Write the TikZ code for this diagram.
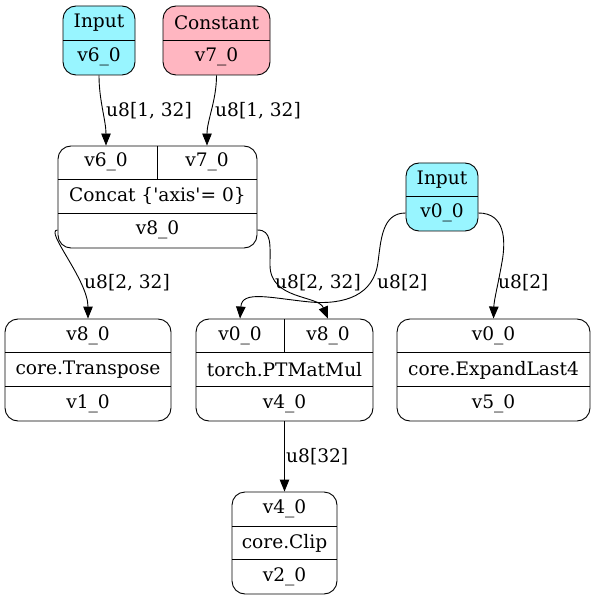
\documentclass[tikz,border=0pt]{standalone}
\usepackage{fontspec}
\setmainfont{DejaVu Serif}
\usetikzlibrary{arrows.meta}
\definecolor{inblue}{HTML}{98F5FF}
\definecolor{cpink}{HTML}{FFB6C1}

\begin{document}
\begin{tikzpicture}[x=1pt,y=-1pt,
  rec/.style={draw,rounded corners=13pt,line width=0.9pt,inner sep=0pt},
  txt/.style={font=\fontsize{18.6}{21}\selectfont,inner sep=0pt},
  lab/.style={font=\fontsize{18.6}{21}\selectfont,inner sep=0pt,anchor=west},
  arr/.style={-{Triangle[length=12pt,width=9.5pt]},line width=0.9pt}]
  \useasboundingbox (0,0) rectangle (596,601);

  % inputs
  \node[rec,fill=inblue,minimum width=72pt,minimum height=69pt] (inp6) at (99,40.5) {};
  \node[rec,fill=cpink,minimum width=107pt,minimum height=69pt] (cst7) at (216.5,40.5) {};
  \node[rec,fill=inblue,minimum width=72pt,minimum height=68pt] (inp0) at (442,197) {};
  \draw[line width=0.9pt] (63,40) -- (135,40) (163,40) -- (270,40) (406,196) -- (478,196);
  \node[txt] (inp6a) at (99,23) {Input};
  \node[txt] (inp6b) at (99,57) {v6\_0};
  \node[txt] (cst7a) at (216.5,23) {Constant};
  \node[txt] (cst7b) at (216.5,57) {v7\_0};
  \node[txt] (inp0a) at (442,180) {Input};
  \node[txt] (inp0b) at (442,213) {v0\_0};

  % ops
  \node[rec,minimum width=199pt,minimum height=102pt] (concat) at (157.5,197) {};
  \node[rec,minimum width=166pt,minimum height=102pt] (transp) at (88,370) {};
  \node[rec,minimum width=177pt,minimum height=102pt] (matmul) at (284.5,370) {};
  \node[rec,minimum width=193pt,minimum height=102pt] (expand) at (493.5,370) {};
  \node[rec,minimum width=105pt,minimum height=102pt] (clip) at (284.5,543) {};
  \draw[line width=0.9pt]
    (58,179) -- (257,179) (58,213) -- (257,213) (157,146) -- (157,179)
    (5,352) -- (171,352) (5,386) -- (171,386)
    (196,352) -- (373,352) (196,386) -- (373,386) (284,319) -- (284,352)
    (397,352) -- (590,352) (397,386) -- (590,386)
    (232,526) -- (337,526) (232,559) -- (337,559);

  \node[txt] (cc1) at (106,162) {v6\_0};
  \node[txt] (cc2) at (207,162) {v7\_0};
  \node[txt] (cc3) at (157.5,196) {Concat \{\textquotesingle axis\textquotesingle= 0\}};
  \node[txt] (cc4) at (157.5,230) {v8\_0};
  \node[txt] (tr1) at (88,336) {v8\_0};
  \node[txt] (tr2) at (88,370) {core.Transpose};
  \node[txt] (tr3) at (88,404) {v1\_0};
  \node[txt] (mm1) at (240,336) {v0\_0};
  \node[txt] (mm2) at (328,336) {v8\_0};
  \node[txt] (mm3) at (284.5,370) {torch.PTMatMul};
  \node[txt] (mm4) at (284.5,404) {v4\_0};
  \node[txt] (ex1) at (493.5,336) {v0\_0};
  \node[txt] (ex2) at (493.5,370) {core.ExpandLast4};
  \node[txt] (ex3) at (493.5,404) {v5\_0};
  \node[txt] (cl1) at (284.5,509) {v4\_0};
  \node[txt] (cl2) at (284.5,543) {core.Clip};
  \node[txt] (cl3) at (284.5,577) {v2\_0};

  % edges
  \draw[arr] (inp6.south) .. controls +(0,25) and +(0,-25) .. (cc1 |- concat.north);
  \draw[arr] (cst7.south) .. controls +(0,25) and +(0,-25) .. (cc2 |- concat.north);
  \draw[arr] (concat.west |- cc4) .. controls (44,230) and (88,280) .. (tr1 |- transp.north);
  \draw[arr] (concat.east |- cc4) .. controls (272,230) and (270,245) .. (270,265)
    .. controls (270,300) and (318,295) .. (mm2 |- matmul.north);
  \draw[arr] (inp0.west |- inp0b) .. controls (382,213) and (381,240) .. (378,262)
    .. controls (374,295) and (345,305) .. (310,302)
    .. controls (270,298) and (242,290) .. (mm1 |- matmul.north);
  \draw[arr] (inp0.east |- inp0b) .. controls (505,213) and (506,240) .. (502,262)
    .. controls (498,285) and (494,300) .. (ex1 |- expand.north);
  \draw[arr] (matmul.south) -- (clip.north);

  \node[lab] (l61) at (106,111) {u8[1, 32]};
  \node[lab] (l72) at (215,111) {u8[1, 32]};
  \node[lab] (l8a) at (84,283) {u8[2, 32]};
  \node[lab] (l8b) at (275,283) {u8[2, 32]};
  \node[lab] (l0a) at (377,283) {u8[2]};
  \node[lab] (l0b) at (498,283) {u8[2]};
  \node[lab] (l4) at (286,457) {u8[32]};
\end{tikzpicture}
\end{document}
